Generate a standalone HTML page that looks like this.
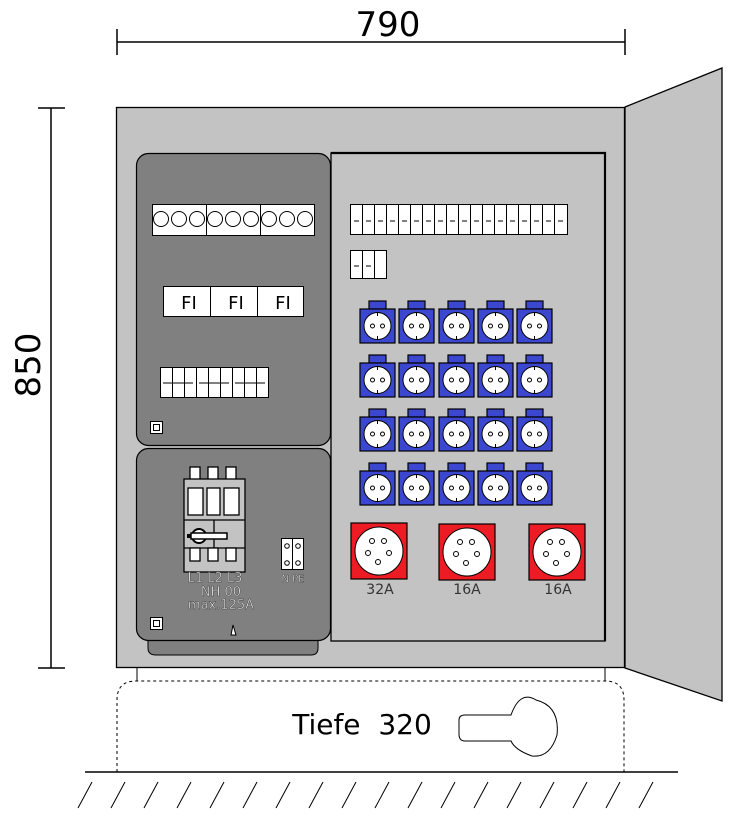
<!DOCTYPE html>
<html><head><meta charset="utf-8"><style>
html,body{margin:0;padding:0;background:#fff;width:756px;height:817px;overflow:hidden}
svg{display:block}
text{font-family:"DejaVu Sans","Liberation Sans",sans-serif}
</style></head><body>
<svg width="756" height="817" viewBox="0 0 756 817" xmlns="http://www.w3.org/2000/svg">
<defs>
<g id="sch">
 <rect x="9" y="0" width="17" height="8" fill="#3c47d0" stroke="#000" stroke-width="1.2"/>
 <rect x="0" y="8" width="35" height="34" fill="#3c47d0" stroke="#000" stroke-width="1.2"/>
 <circle cx="17.5" cy="25" r="13.5" fill="#fff" stroke="#000"/>
 <circle cx="12.5" cy="25" r="2" fill="none" stroke="#000"/>
 <circle cx="22.5" cy="25" r="2" fill="none" stroke="#000"/>
 <line x1="17.5" y1="11.5" x2="17.5" y2="15" stroke="#000"/>
 <line x1="17.5" y1="35" x2="17.5" y2="38.5" stroke="#000"/>
</g>
<g id="cee">
 <rect x="0" y="0" width="56" height="56" fill="#ed1c24" stroke="#000" stroke-width="1.2"/>
 <circle cx="28" cy="28" r="24" fill="#fff" stroke="#000"/>
 <g fill="none" stroke="#000"><circle cx="21" cy="18" r="2.5"/><circle cx="33" cy="18" r="2.5"/><circle cx="17" cy="30" r="2.5"/><circle cx="38" cy="30" r="2.5"/><circle cx="27" cy="39" r="2.5"/></g>
</g>
</defs>

<!-- dimensions -->
<text x="388" y="36" font-size="34" text-anchor="middle" font-family="Liberation Sans">790</text>
<line x1="117" y1="42" x2="625" y2="42" stroke="#000" stroke-width="1.5"/>
<line x1="117" y1="29" x2="117" y2="55" stroke="#000" stroke-width="1.5"/>
<line x1="625" y1="29" x2="625" y2="55" stroke="#000" stroke-width="1.5"/>
<line x1="51" y1="108" x2="51" y2="668" stroke="#000" stroke-width="1.5"/>
<line x1="38" y1="108" x2="65" y2="108" stroke="#000" stroke-width="1.5"/>
<line x1="38" y1="668" x2="65" y2="668" stroke="#000" stroke-width="1.5"/>
<text transform="translate(40,365) rotate(-90)" font-size="34" text-anchor="middle" font-family="Liberation Sans">850</text>

<!-- base -->
<line x1="137" y1="668" x2="137" y2="681" stroke="#000"/>
<line x1="605" y1="668" x2="605" y2="681" stroke="#000"/>
<path d="M117 772 V700 Q117 681 136 681 H605 Q624 681 624 700 V772" fill="none" stroke="#000" stroke-dasharray="3,3"/>
<text x="362" y="734" font-size="28" text-anchor="middle" font-family="Liberation Sans">Tiefe&#160; 320</text>
<path d="M511 715 Q520 690 536 700 Q560 706 557 735 Q550 758 532 756 Q515 750 511 741 H465 Q459 741 459 734 V720 Q459 715 465 715 Z" fill="none" stroke="#000"/>
<line x1="85" y1="772" x2="678" y2="772" stroke="#000" stroke-width="1.5"/>
<g stroke="#000">
<line x1="78" y1="808" x2="92" y2="782"/><line x1="111" y1="808" x2="125" y2="782"/><line x1="144" y1="808" x2="158" y2="782"/><line x1="177" y1="808" x2="191" y2="782"/><line x1="210" y1="808" x2="224" y2="782"/><line x1="243" y1="808" x2="257" y2="782"/><line x1="276" y1="808" x2="290" y2="782"/><line x1="309" y1="808" x2="323" y2="782"/><line x1="342" y1="808" x2="356" y2="782"/><line x1="375" y1="808" x2="389" y2="782"/><line x1="408" y1="808" x2="422" y2="782"/><line x1="441" y1="808" x2="455" y2="782"/><line x1="474" y1="808" x2="488" y2="782"/><line x1="507" y1="808" x2="521" y2="782"/><line x1="540" y1="808" x2="554" y2="782"/><line x1="573" y1="808" x2="587" y2="782"/><line x1="606" y1="808" x2="620" y2="782"/><line x1="639" y1="808" x2="653" y2="782"/>
</g>

<!-- cabinet -->
<rect x="116.5" y="107.5" width="508" height="560" fill="#c3c3c3" stroke="#000" stroke-width="1.3"/>
<polygon points="625,107 722,68 722,701 625,668" fill="#c3c3c3" stroke="#000" stroke-width="1.3"/>

<!-- right panel -->
<rect x="331" y="153" width="274" height="488" fill="#c3c3c3" stroke="#000" stroke-width="1.3"/>
<path d="M331 153 H605 V641" fill="none" stroke="#000" stroke-width="2.2"/>

<!-- left panels -->
<rect x="136.5" y="153.5" width="194" height="292" rx="12" fill="#808080" stroke="#000" stroke-width="1.2"/>
<path d="M148 640 V648 Q148 655 156 655 H311 Q318 655 318 648 V640" fill="#808080" stroke="#000"/>
<rect x="136.5" y="448.5" width="194" height="192" rx="12" fill="#808080" stroke="#000" stroke-width="1.2"/>

<!-- terminal circles -->
<rect x="152.5" y="204.5" width="162" height="31" fill="#fff" stroke="#000"/>
<line x1="206.5" y1="204" x2="206.5" y2="236" stroke="#000"/><line x1="260.5" y1="204" x2="260.5" y2="236" stroke="#000"/>
<g fill="none" stroke="#000"><circle cx="161" cy="219" r="7.5"/><circle cx="179" cy="219" r="7.5"/><circle cx="197" cy="219" r="7.5"/><circle cx="215" cy="219" r="7.5"/><circle cx="233" cy="219" r="7.5"/><circle cx="251" cy="219" r="7.5"/><circle cx="269" cy="219" r="7.5"/><circle cx="287" cy="219" r="7.5"/><circle cx="305" cy="219" r="7.5"/></g>

<!-- FI -->
<rect x="163.5" y="286.5" width="140" height="30" fill="#fff" stroke="#000"/>
<line x1="210.5" y1="286" x2="210.5" y2="317" stroke="#000"/><line x1="257.5" y1="286" x2="257.5" y2="317" stroke="#000"/>
<g font-size="18" text-anchor="middle"><text x="189" y="309">FI</text><text x="236" y="309">FI</text><text x="283" y="309">FI</text></g>

<!-- small breakers left -->
<rect x="160.5" y="367.5" width="108" height="30" fill="#fff" stroke="#000"/>
<g stroke="#000"><line x1="172.5" y1="367" x2="172.5" y2="398"/><line x1="184.5" y1="367" x2="184.5" y2="398"/><line x1="196.5" y1="367" x2="196.5" y2="398"/><line x1="208.5" y1="367" x2="208.5" y2="398"/><line x1="220.5" y1="367" x2="220.5" y2="398"/><line x1="232.5" y1="367" x2="232.5" y2="398"/><line x1="244.5" y1="367" x2="244.5" y2="398"/><line x1="256.5" y1="367" x2="256.5" y2="398"/>
<line x1="163" y1="383" x2="193" y2="383"/><line x1="199" y1="383" x2="229" y2="383"/><line x1="235" y1="383" x2="265" y2="383"/></g>
<rect x="150.5" y="421.5" width="12" height="12" fill="#fff" stroke="#000"/><rect x="153.5" y="424.5" width="6" height="6" fill="none" stroke="#000"/>

<!-- main switch -->
<g stroke="#000" stroke-width="1.3">
<rect x="190" y="467" width="10" height="13" fill="#fff"/><rect x="208" y="467" width="10" height="13" fill="#fff"/><rect x="226" y="467" width="10" height="13" fill="#fff"/>
<rect x="184" y="479" width="61" height="93" fill="#c3c3c3"/>
<rect x="188" y="488" width="15" height="27" fill="#fff"/><rect x="207" y="488" width="13" height="27" fill="#fff"/><rect x="224" y="488" width="15" height="27" fill="#fff"/>
<line x1="184" y1="520" x2="245" y2="520"/><line x1="184" y1="548" x2="245" y2="548"/><line x1="214" y1="520" x2="214" y2="548"/>
<rect x="190" y="548" width="10" height="13" fill="#fff"/><rect x="208" y="548" width="10" height="13" fill="#fff"/><rect x="226" y="548" width="10" height="13" fill="#fff"/>
</g>
<circle cx="199" cy="536" r="7" fill="#fff" stroke="#000" stroke-width="2"/>
<rect x="191" y="533" width="36" height="6" fill="#fff" stroke="#000" stroke-width="1.5"/>
<rect x="187" y="534" width="4" height="4" fill="#000"/>
<g font-size="13" fill="#e8e8e8" stroke="#333" stroke-width="0.4" text-anchor="middle"><text x="215" y="582">L1 L2 L3</text><text x="221" y="596">NH 00</text><text x="221" y="609">max.125A</text></g>
<rect x="281.5" y="538.5" width="11" height="31" fill="#fff" stroke="#000"/><rect x="292.5" y="538.5" width="11" height="31" fill="#fff" stroke="#000"/>
<g fill="none" stroke="#000"><circle cx="287" cy="546" r="2.3"/><circle cx="298" cy="546" r="2.3"/><circle cx="287" cy="563" r="2.3"/><circle cx="298" cy="563" r="2.3"/></g>
<text x="293" y="582" font-size="10" text-anchor="middle" fill="#fff" stroke="#000" stroke-width="0.3">N PE</text>
<rect x="150.5" y="617.5" width="12" height="12" fill="#fff" stroke="#000"/><rect x="153.5" y="620.5" width="6" height="6" fill="none" stroke="#000"/>
<polygon points="233,625 231,635 236,635" fill="#fff" stroke="#000"/>

<!-- MCB row right -->
<rect x="350.5" y="204.5" width="217" height="30" fill="#fff" stroke="#000"/>
<g stroke="#000">
<line x1="362.5" y1="204" x2="362.5" y2="235"/><line x1="374.5" y1="204" x2="374.5" y2="235"/><line x1="386.5" y1="204" x2="386.5" y2="235"/><line x1="398.5" y1="204" x2="398.5" y2="235"/><line x1="410.5" y1="204" x2="410.5" y2="235"/><line x1="422.5" y1="204" x2="422.5" y2="235"/><line x1="434.5" y1="204" x2="434.5" y2="235"/><line x1="446.5" y1="204" x2="446.5" y2="235"/><line x1="458.5" y1="204" x2="458.5" y2="235"/><line x1="470.5" y1="204" x2="470.5" y2="235"/><line x1="482.5" y1="204" x2="482.5" y2="235"/><line x1="494.5" y1="204" x2="494.5" y2="235"/><line x1="506.5" y1="204" x2="506.5" y2="235"/><line x1="518.5" y1="204" x2="518.5" y2="235"/><line x1="530.5" y1="204" x2="530.5" y2="235"/><line x1="542.5" y1="204" x2="542.5" y2="235"/><line x1="554.5" y1="204" x2="554.5" y2="235"/>
</g>
<path d="M354 221h5M366 221h5M378 221h5M390 221h5M402 221h5M414 221h5M426 221h5M438 221h5M450 221h5M462 221h5M474 221h5M486 221h5M498 221h5M510 221h5M522 221h5M534 221h5M546 221h5M558 221h5" stroke="#000"/>
<rect x="350.5" y="250.5" width="36" height="28" fill="#fff" stroke="#000"/>
<line x1="362.5" y1="250" x2="362.5" y2="279" stroke="#000"/><line x1="374.5" y1="250" x2="374.5" y2="279" stroke="#000"/>
<path d="M354 266h5M366 266h5" stroke="#000"/>

<!-- schuko -->
<use href="#sch" x="360" y="301"/><use href="#sch" x="399" y="301"/><use href="#sch" x="439" y="301"/><use href="#sch" x="478" y="301"/><use href="#sch" x="517" y="301"/>
<use href="#sch" x="360" y="355"/><use href="#sch" x="399" y="355"/><use href="#sch" x="439" y="355"/><use href="#sch" x="478" y="355"/><use href="#sch" x="517" y="355"/>
<use href="#sch" x="360" y="409"/><use href="#sch" x="399" y="409"/><use href="#sch" x="439" y="409"/><use href="#sch" x="478" y="409"/><use href="#sch" x="517" y="409"/>
<use href="#sch" x="360" y="463"/><use href="#sch" x="399" y="463"/><use href="#sch" x="439" y="463"/><use href="#sch" x="478" y="463"/><use href="#sch" x="517" y="463"/>

<!-- CEE -->
<use href="#cee" x="351" y="523"/><use href="#cee" x="439" y="524"/><use href="#cee" x="529" y="524"/>
<g font-size="14" text-anchor="middle" fill="#333"><text x="380" y="594">32A</text><text x="467" y="594">16A</text><text x="558" y="594">16A</text></g>
</svg>
</body></html>
